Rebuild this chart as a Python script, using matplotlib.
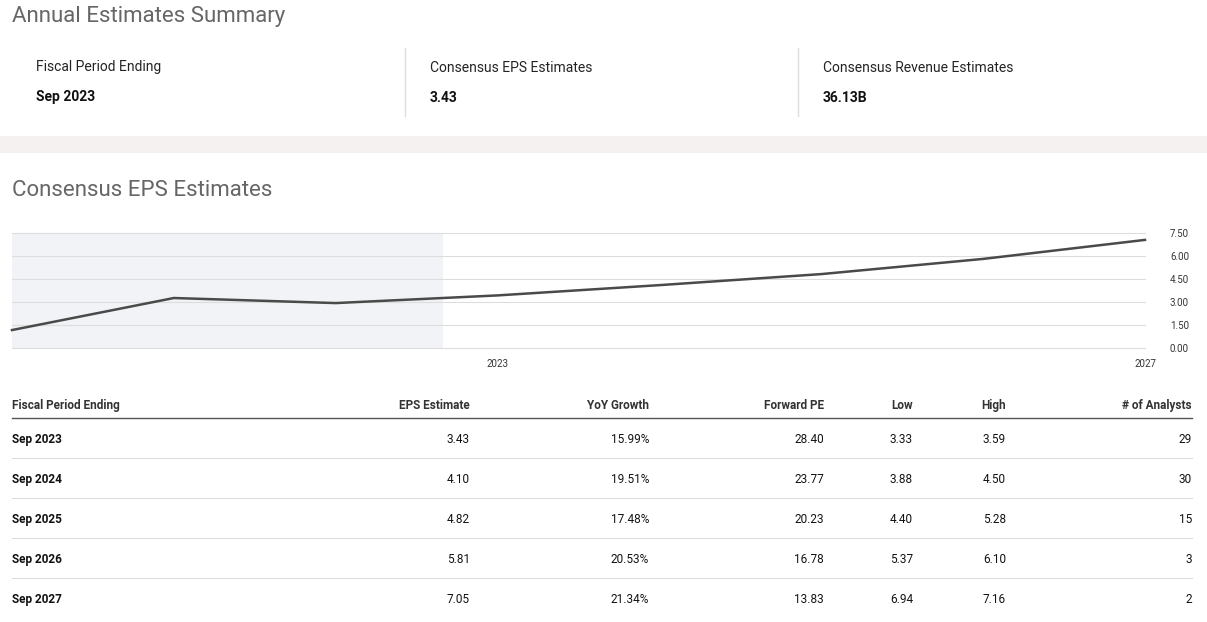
import matplotlib
matplotlib.use("Agg")
import matplotlib.pyplot as plt
from matplotlib.lines import Line2D
from matplotlib.patches import Rectangle

plt.rcParams["font.family"] = "Roboto"

# ---- data ----
chart_years = [2020, 2021, 2022, 2023, 2024, 2025, 2026, 2027]
chart_eps = [1.17, 3.26, 2.93, 3.43, 4.10, 4.82, 5.81, 7.05]
y_ticks = [0.0, 1.5, 3.0, 4.5, 6.0, 7.5]
x_tick_years = [2023, 2027]
shade_until = 2023.41

summary_labels = ["Fiscal Period Ending", "Consensus EPS Estimates", "Consensus Revenue Estimates"]
summary_values = ["Sep 2023", "3.43", "36.13B"]

headers = ["Fiscal Period Ending", "EPS Estimate", "YoY Growth", "Forward PE", "Low", "High", "# of Analysts"]
periods = ["Sep 2023", "Sep 2024", "Sep 2025", "Sep 2026", "Sep 2027"]
eps_est = ["3.43", "4.10", "4.82", "5.81", "7.05"]
yoy = ["15.99%", "19.51%", "17.48%", "20.53%", "21.34%"]
fwd_pe = ["28.40", "23.77", "20.23", "16.78", "13.83"]
low = ["3.33", "3.88", "4.40", "5.37", "6.94"]
high = ["3.59", "4.50", "5.28", "6.10", "7.16"]
analysts = ["29", "30", "15", "3", "2"]

W, H = 1207, 622
fig = plt.figure(figsize=(W / 100, H / 100), dpi=100)
fig.patch.set_facecolor("white")

def fx(x): return x / W
def fy(y): return 1 - y / H

def txt(x, y, s, **kw):
    kw.setdefault("va", "center")
    fig.text(fx(x), fy(y + 1.5), s, **kw)

# header section
txt(12, 15, "Annual Estimates Summary", fontsize=16, color="#666666")
for i, (lab, val) in enumerate(zip(summary_labels, summary_values)):
    x0 = [36, 430, 823][i]
    txt(x0, 66, lab, fontsize=10, color="#222222")
    txt(x0, 96, val, fontsize=10, color="#111111", fontweight="bold")
for xd in [405, 798]:
    fig.add_artist(Line2D([fx(xd), fx(xd)], [fy(48), fy(116)], color="#dddddd", lw=1))
fig.add_artist(Rectangle((0, fy(153)), 1, (153 - 136) / H, color="#f4f1f0", lw=0))

txt(12, 189, "Consensus EPS Estimates", fontsize=16, color="#666666")

# chart
ax = fig.add_axes([fx(12), fy(348), fx(1145) - fx(12), (348 - 233) / H])
xs = [y + 0.75 for y in chart_years]
ax.set_xlim(xs[0], xs[-1])
ax.set_ylim(0, 7.5)
ax.axvspan(xs[0], shade_until, color="#f2f3f7", lw=0, zorder=0)
for t in y_ticks:
    ax.axhline(t, color="#dddddd", lw=0.8, zorder=1, clip_on=False)
ax.plot(xs, chart_eps, color="#4a4a4a", lw=1.8, zorder=3, clip_on=False)
for s in ax.spines.values():
    s.set_visible(False)
ax.yaxis.tick_right()
ax.set_yticks(y_ticks)
ax.set_yticklabels([f"{t:.2f}" for t in y_ticks], fontsize=7, color="#333333")
ax.tick_params(axis="y", length=0, pad=18)
ax.set_xticks([y + 0.75 for y in x_tick_years])
ax.set_xticklabels([str(y) for y in x_tick_years], fontsize=7, color="#333333")
ax.tick_params(axis="x", length=0, pad=8)
ax.set_facecolor("none")

# table
col_x = [12, 470, 649, 824, 913, 1006, 1192]
for j, h in enumerate(headers):
    txt(col_x[j], 404, h, fontsize=8.5, fontweight="bold", color="#333333",
        ha="left" if j == 0 else "right")
fig.add_artist(Line2D([fx(12), fx(1192)], [fy(418), fy(418)], color="#555555", lw=1))
cols = [periods, eps_est, yoy, fwd_pe, low, high, analysts]
for i in range(len(periods)):
    yr = 438 + 40 * i
    for j, col in enumerate(cols):
        txt(col_x[j], yr, col[i], fontsize=8.5, color="#111111",
            fontweight="bold" if j == 0 else "normal",
            ha="left" if j == 0 else "right")
    if i < len(periods) - 1:
        fig.add_artist(Line2D([fx(12), fx(1192)], [fy(yr + 20), fy(yr + 20)], color="#dddddd", lw=0.8))

fig.savefig("out.png", dpi=100)
